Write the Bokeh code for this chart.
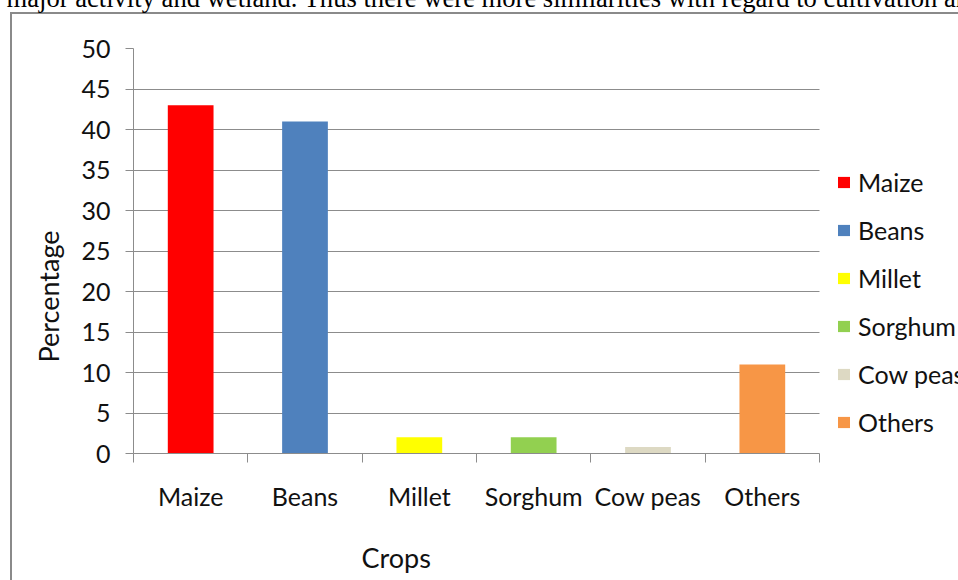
from bokeh.plotting import figure
from bokeh.models import (Range1d, FixedTicker, Legend, LegendItem, ColumnDataSource,
                          LinearAxis, Grid, Title)
from bokeh.embed import file_html
from bokeh.resources import INLINE

# Share of households growing each crop (%)
crops = ["Maize", "Beans", "Millet", "Sorghum", "Cow peas", "Others"]
percentages = [43, 41, 2, 2, 0.8, 11]
colors = ["#FF0000", "#4F81BD", "#FFFF00", "#92D050", "#DDD9C3", "#F79646"]
y_ticks = [0, 5, 10, 15, 20, 25, 30, 35, 40, 45, 50]

FONT = "Lato"
GRID = "#8c8c8c"
TEXT = "#111111"
W = 958
SHIFT_TOP, EXTRA_BOTTOM = 60, 30      # canvas reaches above and below the visible page
H = 580 + SHIFT_TOP + EXTRA_BOTTOM
FL, FR, FT, FB = 133, 819, 48, 453    # plotting area edges in page pixels

# the frame runs to the right edge so the legend can sit beside the bars;
# the category axis itself only spans the first len(crops) units
n = len(crops)
x_end = n * (W - FL) / (FR - FL)

p = figure(width=W, height=H, output_backend="svg", toolbar_location=None,
           x_range=Range1d(0, x_end), y_range=Range1d(0, 50),
           min_border_left=FL, min_border_right=0,
           min_border_top=FT + SHIFT_TOP, min_border_bottom=H - SHIFT_TOP - FB,
           x_axis_type=None, y_axis_type=None)
p.outline_line_color = None
p.background_fill_color = "white"
p.border_fill_color = None
# chart-area frame (left and top edges) painted behind the canvas
edge_y = 12 + SHIFT_TOP
p.styles = {
    "margin-top": f"-{SHIFT_TOP}px",
    "background": f"linear-gradient(#8a8a8a, #8a8a8a) 10px {edge_y}px / 2px 3000px no-repeat, "
                  f"linear-gradient(#8a8a8a, #8a8a8a) 10px {edge_y}px / 3000px 2px no-repeat, "
                  "#ffffff",
}

centers = [i + 0.5 for i in range(n)]
src = ColumnDataSource(dict(x=centers, top=percentages, color=colors, crop=crops))
bars = p.vbar(x="x", top="top", width=0.4, bottom=0, color="color", source=src,
              line_color=None)

# y axis
yaxis = LinearAxis(ticker=FixedTicker(ticks=y_ticks))
yaxis.axis_line_color = GRID
yaxis.major_tick_line_color = GRID
yaxis.major_tick_out = 8
yaxis.major_tick_in = 0
yaxis.minor_tick_line_color = None
yaxis.major_label_standoff = 15
yaxis.major_label_text_font = FONT
yaxis.major_label_text_font_size = "25px"
yaxis.major_label_text_color = TEXT
p.add_layout(yaxis, "left")

# x axis: labels at category centers, tick marks at category boundaries
xaxis = LinearAxis(ticker=FixedTicker(ticks=centers, minor_ticks=list(range(n + 1))),
                   bounds=(0, n))
xaxis.major_label_overrides = {c: name for c, name in zip(centers, crops)}
xaxis.axis_line_color = GRID
xaxis.major_tick_line_color = None
xaxis.major_tick_out = 0
xaxis.minor_tick_line_color = GRID
xaxis.minor_tick_out = 9
xaxis.minor_tick_in = 0
xaxis.major_label_standoff = 18
xaxis.major_label_text_font = FONT
xaxis.major_label_text_font_size = "25px"
xaxis.major_label_text_color = TEXT
p.add_layout(xaxis, "below")

p.add_layout(Grid(dimension=1, ticker=FixedTicker(ticks=y_ticks), cross_bounds=(0, n),
                  grid_line_color=GRID, grid_line_width=1))

# axis titles
p.add_layout(Title(text="Percentage", align="left", offset=91, vertical_align="middle",
                   standoff=26, text_font=FONT, text_font_size="27px",
                   text_font_style="normal", text_color=TEXT), "left")
p.add_layout(Title(text="Crops", align="left", offset=228, vertical_align="middle",
                   standoff=53, text_font=FONT, text_font_size="27px",
                   text_font_style="normal", text_color=TEXT), "below")

# line of the surrounding document text
p.add_layout(Title(text="major activity and wetland. Thus there were more similarities "
                        "with regard to cultivation and",
                   align="left", offset=-127, vertical_align="top", standoff=67,
                   text_font="Liberation Serif", text_font_size="26.6px",
                   text_font_style="normal", text_color="black"), "above")

legend = Legend(items=[LegendItem(label=c, renderers=[bars], index=i)
                       for i, c in enumerate(crops)],
                location=(836 - FL, 16), orientation="vertical",
                border_line_color=None,
                background_fill_alpha=0, label_text_font=FONT,
                label_text_font_size="25px", label_text_color=TEXT,
                glyph_width=15, glyph_height=14, label_height=30, spacing=18,
                padding=0, margin=0, label_standoff=7)
p.add_layout(legend, "center")

open("out.html", "w").write(file_html(p, INLINE))
